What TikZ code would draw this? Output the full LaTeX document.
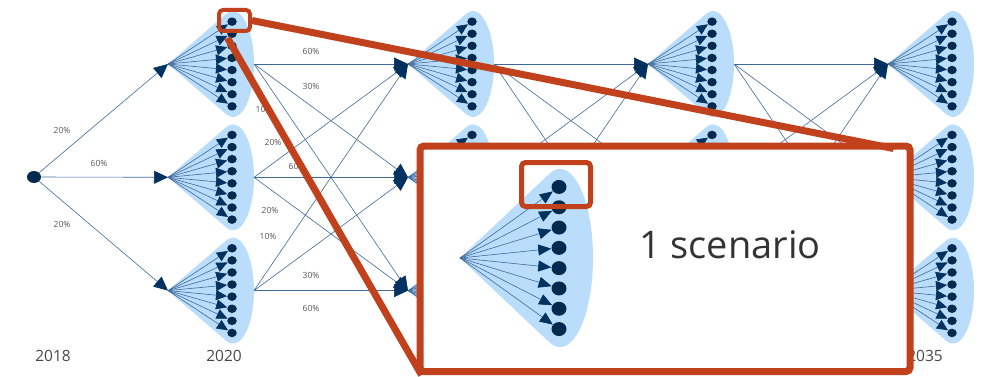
\documentclass[tikz,border=0pt]{standalone}
\usepackage{fontspec}
\setmainfont{Open Sans}
\usepackage{tikz}
\usetikzlibrary{arrows.meta,positioning,backgrounds,calc,shapes.geometric}
\def\colsep{240}
\def\rowsep{113.3}
\def\dotsep{12.1}
\def\fanreach{64}
\definecolor{navy}{HTML}{00325f}
\definecolor{inkblue}{HTML}{022a4e}
\definecolor{steel}{HTML}{40699a}
\definecolor{sky}{HTML}{b9ddfb}
\definecolor{rust}{HTML}{c0411c}
\definecolor{slate}{HTML}{555555}

\begin{document}
\begin{tikzpicture}[x=1pt,y=-1pt,line width=0.6pt,
    myarrow/.style={draw=steel,-{Triangle[length=14pt,width=13pt,color=navy]}},
    fanarrow/.style={draw=steel,-{Triangle[length=11pt,width=10pt,color=navy]}},
    zoomarrow/.style={draw=steel,-{Triangle[length=13pt,width=11pt,color=navy]}}]
    \tikzstyle{dot}=[ellipse,fill=inkblue,minimum width=9.5pt,minimum height=8.5pt,inner sep=0pt]
    \tikzstyle{big dot}=[dot,minimum width=15pt,minimum height=14pt]
    \tikzstyle{root dot}=[dot,minimum width=14pt,minimum height=12pt]
    \tikzstyle{pct}=[text=slate,font=\fontsize{8.5}{10}\selectfont,inner sep=0pt]
    \tikzstyle{year}=[text=slate!85!black,font=\fontsize{15.5}{18}\selectfont,inner sep=0pt]
    \tikzstyle{blob}=[fill=sky]
    \tikzstyle{zoomframe}=[draw=rust,rounded corners=4pt,inner sep=0pt]
    \useasboundingbox (0,0) rectangle (982,377);

    % Draw the nodes
    \node[root dot] (root) at (34,177) {};
    \foreach \c in {1,...,4}
        \foreach \r in {1,...,3} {
            \coordinate (a-\c-\r) at ({168+\colsep*(\c-1)},{64+\rowsep*(\r-1)});
            \coordinate (o-\c-\r) at ($(a-\c-\r)+(86,0)$);
            \foreach \k in {1,...,8}
                \node[dot] (d-\c-\r-\k) at ($(a-\c-\r)+(\fanreach,{(\k-4.5)*\dotsep})$) {};
        }

    % Connect every node
    \foreach \r in {1,...,3}
        \draw[myarrow] (root) -- (a-1-\r);

    \foreach \c [evaluate=\c as \n using int(\c+1)] in {1,...,3}
        \foreach \r in {1,...,3}
            \foreach \s in {1,...,3}
                \draw[myarrow] (o-\c-\r) -- (a-\n-\s);

    \foreach \c in {1,...,4}
        \foreach \r in {1,...,3}
            \foreach \k in {1,...,8}
                \draw[fanarrow] (a-\c-\r) -- (d-\c-\r-\k);

    % Annotate the branches
    \foreach \name/\x/\y/\p in {0-1/62/130/20, 0-2/99/163/60, 0-3/62/224/20,
                                1-1/311/51/60, 1-2/311/86/30, 1-3/264/109/10,
                                2-1/273/142/20, 2-2/297/166/60, 2-3/270/210/20,
                                3-1/268/236/10, 3-2/311/275/30, 3-3/311/308/60}
        \node[pct] (p-\name) at (\x,\y) {\p\%};

    \node[year] (y-2018) at (53,356) {2018};
    \node[year] (y-2020) at (224,356) {2020};
    \node[year] (y-2035) at (925,356) {2035};

    \begin{scope}[on background layer]
        \foreach \c in {1,...,4}
            \foreach \r in {1,...,3}
                \fill[blob] (a-\c-\r) -- ($(a-\c-\r)+(58.2,50.2)$)
                    arc[start angle=108.85,end angle=-108.85,x radius=21,y radius=53] -- cycle;
    \end{scope}

    % Zoomed view of one scenario
    \node[zoomframe,line width=4pt,minimum width=31pt,minimum height=21pt] (zoomsrc) at (234.5,20.5) {};
    \node[zoomframe,line width=7pt,fill=white,minimum width=490pt,minimum height=225.5pt] (zoombox) at (665,258.75) {};

    \coordinate (za) at (460,258);
    \fill[blob] (za) -- ($(za)+(89.1,84)$)
        arc[start angle=109.3,end angle=-109.3,x radius=33,y radius=89] -- cycle;
    \foreach \k in {1,...,8}
        \node[big dot] (zd-\k) at ($(za)+(99,{(\k-4.5)*20.3})$) {};
    \foreach \k in {1,...,8}
        \draw[zoomarrow] (za) -- (zd-\k);

    \node[zoomframe,line width=5pt,minimum width=69pt,minimum height=44pt] (zoompick) at (556,184.5) {};
    \node[text=black!80,font=\fontsize{38}{44}\selectfont] (scen) at (730,245) {1 scenario};

    \coordinate (pin-top) at ($(zoombox.north east)+(-20,6)$);
    \coordinate (pin-low) at ($(zoombox.south west)+(5,0)$);
    \draw[rust,line width=7pt] (zoomsrc.east) -- (pin-top);
    \draw[rust,line width=7pt] ($(zoomsrc.south)+(-7,5)$) -- (pin-low);
\end{tikzpicture}
\end{document}
